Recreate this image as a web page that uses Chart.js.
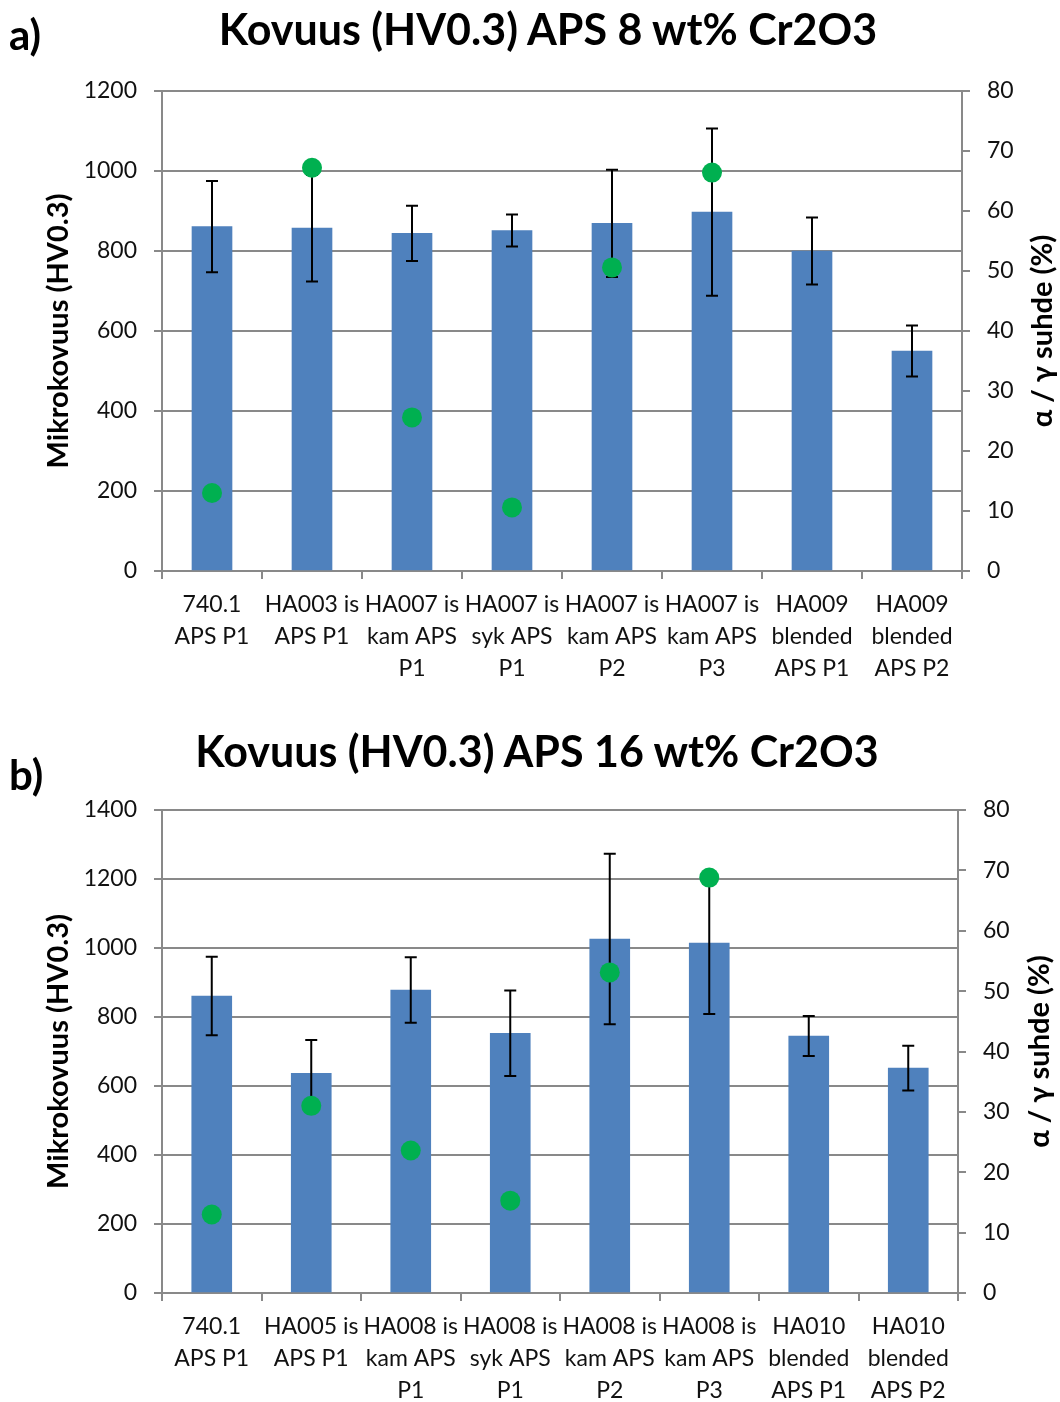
<!DOCTYPE html>
<html>
<head>
<meta charset="utf-8">
<script src="https://cdn.jsdelivr.net/npm/chart.js@4.4.1/dist/chart.umd.min.js"></script>
<style>
  body { margin: 0; background: #fff; }
  .panel { position: absolute; left: 0; width: 1060px; }
  .letter { position: absolute; left: 9px; font: bold 42px Lato, sans-serif; line-height: 1; color: #000; }
  .title { position: absolute; transform: translateX(-50%); white-space: nowrap;
           font: bold 43px Lato, sans-serif; line-height: 1; color: #000; }
</style>
</head>
<body>
<div class="panel" style="top:0;height:700px">
  <canvas id="chartA" width="1060" height="700"></canvas>
</div>
<div class="panel" style="top:700px;height:702px">
  <canvas id="chartB" width="1060" height="702"></canvas>
</div>
<div class="letter" style="top:13px">a)</div>
<div class="title" style="left:548px;top:7px">Kovuus (HV0.3) APS 8 wt% Cr2O3</div>
<div class="letter" style="top:753px">b)</div>
<div class="title" style="left:537px;top:729px">Kovuus (HV0.3) APS 16 wt% Cr2O3</div>

<script>
// a) APS 8 wt% Cr2O3
const labelsA = [
  ["740.1", "APS P1"], ["HA003 is", "APS P1"], ["HA007 is", "kam APS", "P1"],
  ["HA007 is", "syk APS", "P1"], ["HA007 is", "kam APS", "P2"], ["HA007 is", "kam APS", "P3"],
  ["HA009", "blended", "APS P1"], ["HA009", "blended", "APS P2"]
];
const hardnessA = [861, 857, 844, 851, 869, 897, 800, 550];
const errorA = [114, 133, 69, 40, 134, 209, 84, 64];
const ratioA = [13.0, 67.2, 25.6, 10.6, 50.6, 66.4, null, null];

// b) APS 16 wt% Cr2O3
const labelsB = [
  ["740.1", "APS P1"], ["HA005 is", "APS P1"], ["HA008 is", "kam APS", "P1"],
  ["HA008 is", "syk APS", "P1"], ["HA008 is", "kam APS", "P2"], ["HA008 is", "kam APS", "P3"],
  ["HA010", "blended", "APS P1"], ["HA010", "blended", "APS P2"]
];
const hardnessB = [861, 637, 878, 753, 1026, 1014, 745, 652];
const errorB = [114, 96, 95, 124, 247, 205, 58, 65];
const ratioB = [13.0, 31.0, 23.6, 15.3, 53.1, 68.8, null, null];

const leftMaxA = 1200;
const leftMaxB = 1400;
const leftStep = 200;
const rightMax = 80;
const rightStep = 10;

const axisGray = "#898989";
const tickFont = { family: "Lato", size: 23, lineHeight: 1.391 };
const plainNumber = (v) => String(v);

// error bars drawn right after the bars, so the green dots end up on top
const errorBars = {
  id: "errorBars",
  afterDatasetDraw(chart, args, opts) {
    if (args.index !== 0) return;
    const ctx = chart.ctx;
    const y = chart.scales.y;
    const vals = chart.data.datasets[0].data;
    ctx.save();
    ctx.strokeStyle = "#000";
    ctx.lineWidth = 2;
    args.meta.data.forEach((bar, i) => {
      const hi = y.getPixelForValue(vals[i] + opts.errors[i]);
      const lo = y.getPixelForValue(vals[i] - opts.errors[i]);
      ctx.beginPath();
      ctx.moveTo(bar.x, hi);
      ctx.lineTo(bar.x, lo);
      ctx.moveTo(bar.x - 6, hi);
      ctx.lineTo(bar.x + 6, hi);
      ctx.moveTo(bar.x - 6, lo);
      ctx.lineTo(bar.x + 6, lo);
      ctx.stroke();
    });
    ctx.restore();
  }
};

// right axis title, reading bottom to top like the left one
const rightTitle = {
  id: "rightTitle",
  afterDraw(chart, args, opts) {
    const { ctx, chartArea } = chart;
    ctx.save();
    ctx.translate(opts.x, (chartArea.top + chartArea.bottom) / 2);
    ctx.rotate(-Math.PI / 2);
    ctx.font = "bold 29px Lato";
    ctx.fillStyle = "#000";
    ctx.textAlign = "center";
    ctx.textBaseline = "middle";
    ctx.fillText(opts.text, 0, 0);
    ctx.restore();
  }
};

function makeChart(id, labels, hardness, errors, ratio, leftMax, layout) {
  return new Chart(document.getElementById(id), {
    type: "bar",
    data: {
      labels: labels,
      datasets: [
        {
          data: hardness,
          backgroundColor: "#4f81bd",
          barThickness: 40,
          yAxisID: "y",
          order: 1
        },
        {
          type: "line",
          data: ratio,
          showLine: false,
          pointRadius: 10,
          pointHoverRadius: 10,
          pointBorderWidth: 0,
          backgroundColor: "#00b050",
          borderColor: "#00b050",
          yAxisID: "y1",
          order: 0
        }
      ]
    },
    options: {
      responsive: false,
      animation: false,
      layout: { padding: { top: layout.top, left: 0, right: 0, bottom: 0 } },
      plugins: {
        legend: { display: false },
        tooltip: { enabled: false },
        errorBars: { errors: errors },
        rightTitle: { text: "α / γ suhde (%)", x: layout.rightTitleX }
      },
      scales: {
        x: {
          grid: { offset: true, drawOnChartArea: false, color: axisGray, lineWidth: 2, tickLength: 8 },
          border: { color: axisGray, width: 2 },
          ticks: { color: "#111", font: tickFont, padding: 10, autoSkip: false, maxRotation: 0, minRotation: 0 },
          afterFit: (s) => { s.height = layout.bottom; }
        },
        y: {
          position: "left",
          min: 0,
          max: leftMax,
          ticks: { stepSize: leftStep, color: "#111", font: tickFont, padding: 17, callback: plainNumber },
          grid: { color: axisGray, lineWidth: 2, tickLength: 8 },
          border: { color: axisGray, width: 2 },
          title: {
            display: true,
            text: "Mikrokovuus (HV0.3)",
            color: "#000",
            font: { family: "Lato", size: 29, weight: "bold", lineHeight: 1.2 },
            padding: { top: 41, bottom: 0 }
          },
          afterFit: (s) => { s.width = 162; }
        },
        y1: {
          position: "right",
          min: 0,
          max: rightMax,
          ticks: { stepSize: rightStep, color: "#111", font: tickFont, padding: 17, callback: plainNumber },
          grid: { drawOnChartArea: false, color: axisGray, lineWidth: 2, tickLength: 8 },
          border: { color: axisGray, width: 2 },
          afterFit: (s) => { s.width = layout.right; }
        }
      }
    },
    plugins: [errorBars, rightTitle]
  });
}

makeChart("chartA", labelsA, hardnessA, errorA, ratioA, leftMaxA,
  { top: 91, bottom: 129, right: 98, rightTitleX: 1043 });
makeChart("chartB", labelsB, hardnessB, errorB, ratioB, leftMaxB,
  { top: 110, bottom: 109, right: 102, rightTitleX: 1040 });
</script>
</body>
</html>
